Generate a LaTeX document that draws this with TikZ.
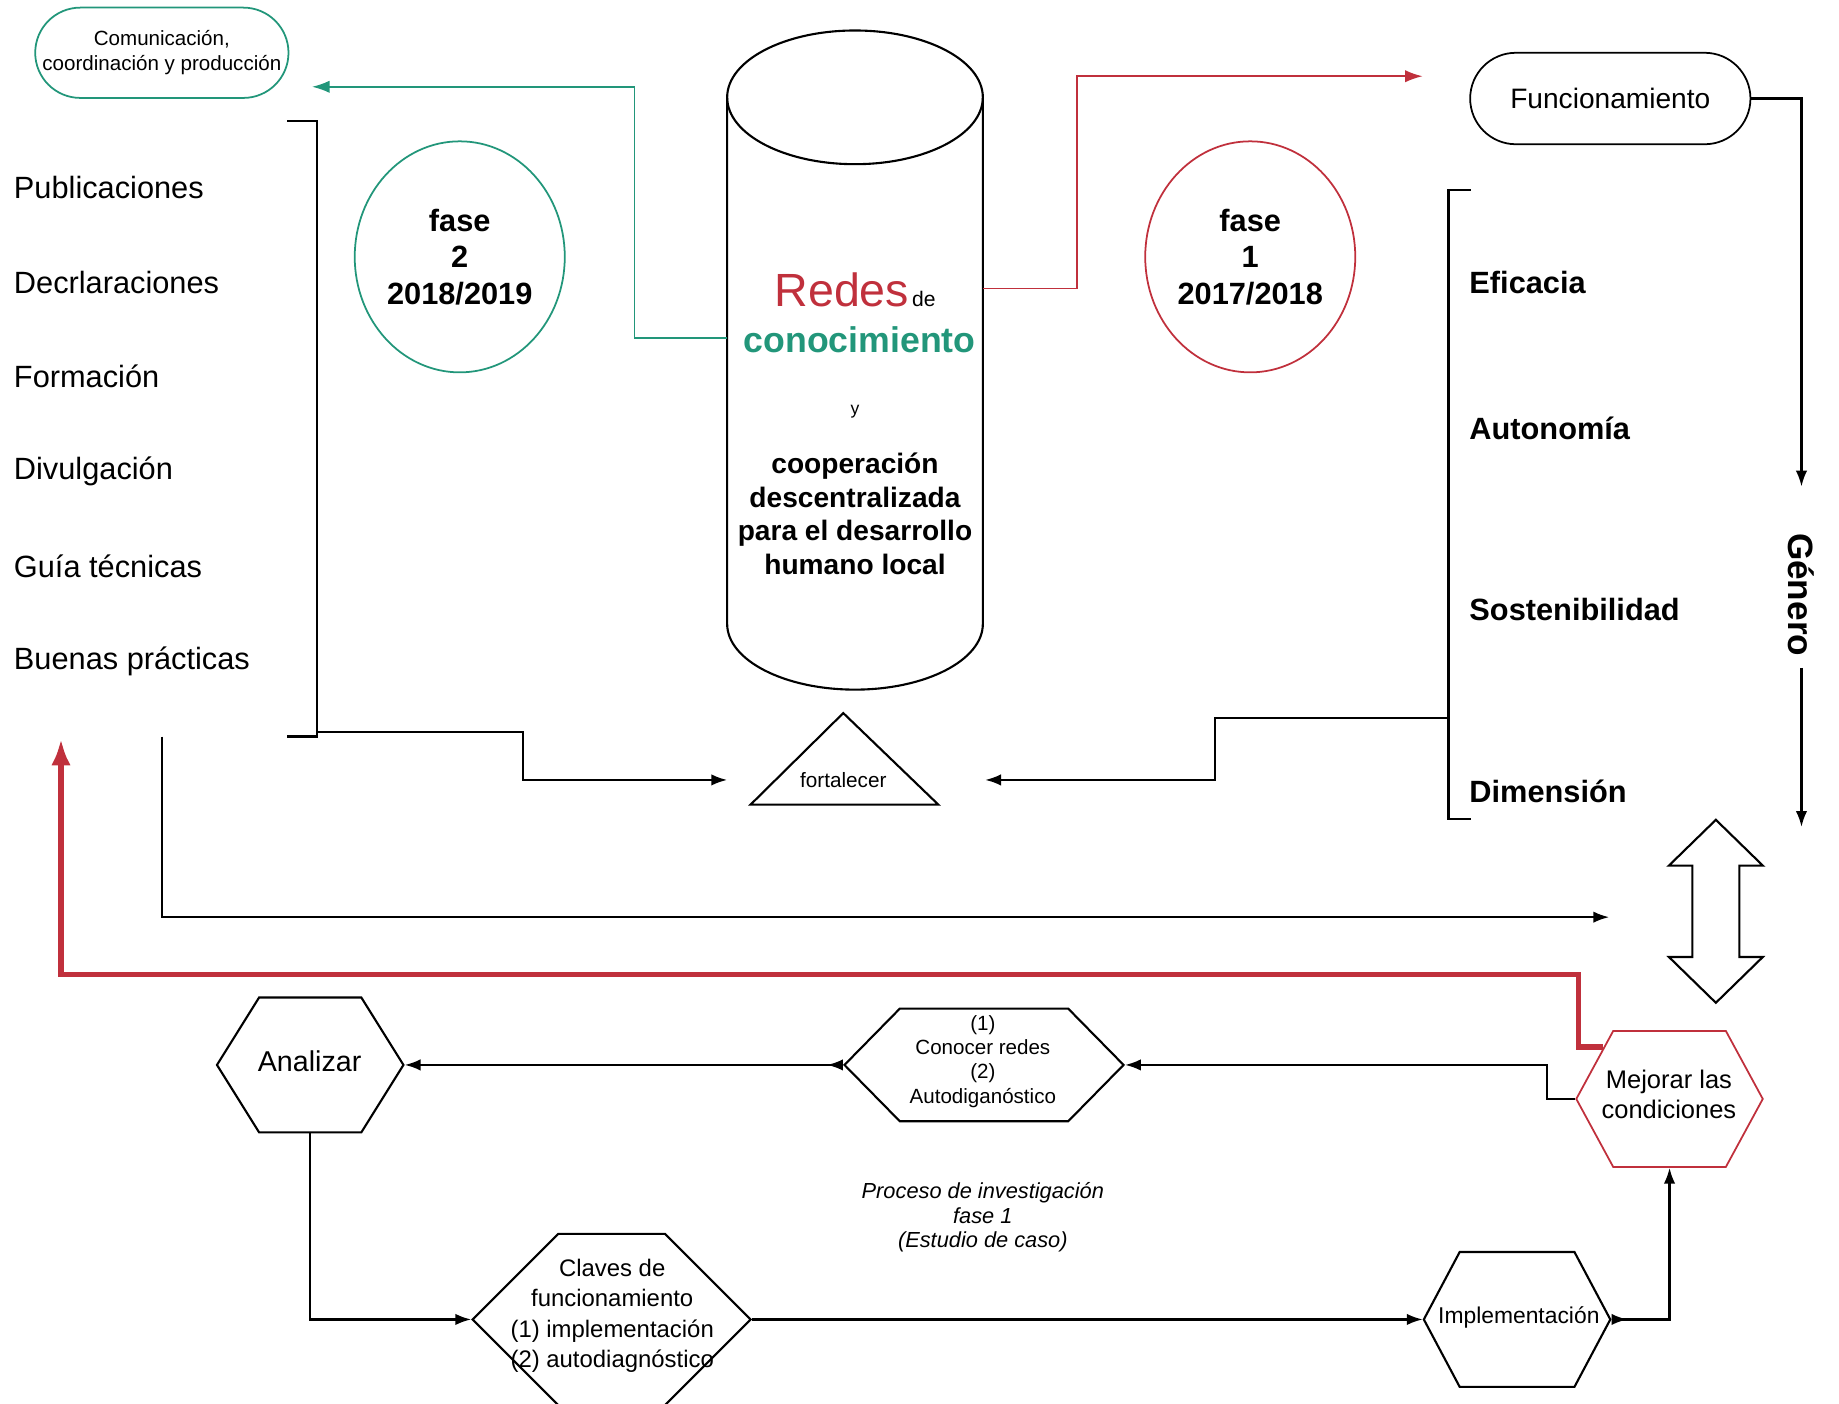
\documentclass[tikz,border=0pt]{standalone}
\usepackage{fontspec}
\setmainfont{Liberation Sans}
\usetikzlibrary{arrows.meta,positioning,shapes.geometric,shapes.misc,shapes.symbols}
\definecolor{tealc}{RGB}{34,150,122}
\definecolor{redc}{RGB}{192,48,60}

\begin{document}
\begin{tikzpicture}[
    x=0.02345cm, y=-0.02345cm,
    >={Latex[length=9pt,width=6.5pt]},
    line width=1.2pt,
    item/.style={anchor=west, inner sep=0pt, font=\fontsize{17.5}{21}\selectfont},
    crit/.style={anchor=west, inner sep=0pt, font=\bfseries\fontsize{17.5}{21}\selectfont},
    fase/.style={
		ellipse,
		line width=1pt,
		minimum width=4.2cm,
		minimum height=4.62cm,
		inner sep=0pt,
		align=center,
		font=\bfseries\fontsize{17.5}{20.7}\selectfont
	},
    pill/.style={
		rounded rectangle,
		draw,
		line width=1pt,
		inner sep=0pt,
		align=center
	},
    hexa/.style={
		signal,
		signal to=west and east,
		signal pointer angle=#1,
		draw,
		fill=white,
		inner sep=0pt
	},
    hextext/.style={inner sep=0pt, align=center},
    link/.style={draw, ->},
    tealink/.style={draw=tealc, line width=1pt, -{Latex[length=10pt,width=7pt]}},
    redlink/.style={draw=redc, line width=1pt, -{Latex[length=10pt,width=7pt]}},
    backlink/.style={draw=redc, line width=3.2pt, -{Latex[length=15pt,width=11pt]}}
  ]
  \useasboundingbox (0,0) rectangle (1568,1197);

  % top row
  \node [pill, draw=tealc, minimum width=5.065cm, minimum height=1.806cm,
         font=\fontsize{11.7}{14}\selectfont] (comu) at (138,45)
        {Comunicación,\\coordinación y producción};
  \node [pill, minimum width=5.605cm, minimum height=1.829cm,
         font=\fontsize{16}{19}\selectfont] (func) at (1373,84) {Funcionamiento};

  % left list and bracket
  \node [item] (publ) at (11,160) {Publicaciones};
  \node [item] (decl) at (11,241) {Decrlaraciones};
  \node [item] (form) at (11,321) {Formación};
  \node [item] (divu) at (11,402) {Divulgación};
  \node [item] (guia) at (11,483) {Guía técnicas};
  \node [item] (buen) at (11,564) {Buenas prácticas};
  \draw (245,103) -- (270,103) -- (270,628) -- (245,628);
  \coordinate (lbrack) at (270,624);
  \coordinate (listbot) at (138,628);

  % right list and bracket
  \node [crit] (efic) at (1252,241) {Eficacia};
  \node [crit] (auto) at (1252,365) {Autonomía};
  \node [crit] (sost) at (1252,520) {Sostenibilidad};
  \node [crit] (dime) at (1252,675) {Dimensión};
  \draw (1254,162) -- (1235,162) -- (1235,698) -- (1254,698);
  \coordinate (rbrack) at (1235,612);

  % phases
  \node [fase, draw=tealc] (fase2) at (392,219) {fase\\2\\2018/2019};
  \node [fase, draw=redc] (fase1) at (1066,219) {fase\\1\\2017/2018};

  % the cylinder
  \draw (620,83) -- (620,532) arc[start angle=180, end angle=0, x radius=109, y radius=56] -- (838,83);
  \draw (729,83) ellipse [x radius=109, y radius=57];
  \node [inner sep=0pt] (redes) at (729,247)
        {{\color{redc}\fontsize{26.5}{30}\selectfont Redes}\,{\fontsize{12}{14}\selectfont de}};
  \node [inner sep=0pt, text=tealc, font=\bfseries\fontsize{20.3}{24}\selectfont] (conoc) at (733,290) {conocimiento};
  \node [inner sep=0pt, font=\fontsize{10}{12}\selectfont] (yy) at (729,351) {y};
  \node [inner sep=0pt, align=center, font=\bfseries\fontsize{16}{19.15}\selectfont] (coop) at (729,438)
        {cooperación\\descentralizada\\para el desarrollo\\humano local};
  \coordinate (cylL) at (620,288);
  \coordinate (cylR) at (838,246);

  % fortalecer
  \draw (640,686) -- (719,608) -- (800,686) -- cycle;
  \node [inner sep=0pt, font=\fontsize{11.8}{14}\selectfont] (fort) at (719,665) {fortalecer};
  \coordinate (fortL) at (620,665);
  \coordinate (fortR) at (840,665);

  % genero
  \node [rotate=-90, inner sep=6pt, font=\bfseries\fontsize{20}{24}\selectfont] (genero) at (1536,507) {Género};
  \coordinate (genout) at (1536,705);

  % double arrow
  \draw (1463,699) -- (1503,738) -- (1483,738) -- (1483,816) -- (1503,816) -- (1463,855)
        -- (1423,816) -- (1443,816) -- (1443,738) -- (1423,738) -- cycle;
  \coordinate (dblin) at (1372,782);

  % process
  \node [hexa=116, minimum width=3.729cm, minimum height=2.697cm] (analizar) at (264.5,908) {};
  \node [hextext, font=\fontsize{16.3}{19}\selectfont] (analizartxt) at (264,905) {Analizar};
  \node [hexa=91, minimum width=5.581cm, minimum height=2.251cm] (conocer) at (839,908) {};
  \node [hextext, font=\fontsize{11.7}{13.8}\selectfont] (conocertxt) at (838,905)
        {(1)\\Conocer redes\\(2)\\Autodiganóstico};
  \node [hexa=123, draw=redc, line width=1pt, minimum width=3.729cm, minimum height=2.72cm] (mejorar) at (1423.5,937) {};
  \node [hextext, font=\fontsize{14.5}{17.3}\selectfont] (mejorartxt) at (1423,933)
        {Mejorar las\\condiciones};
  \node [hexa=90, minimum width=5.558cm, minimum height=3.424cm] (claves) at (521.5,1125) {};
  \node [hextext, font=\fontsize{13.6}{17.3}\selectfont] (clavestxt) at (522,1122)
        {Claves de\\funcionamiento\\(1) implementación\\(2) autodiagnóstico};
  \node [hexa=124, minimum width=3.729cm, minimum height=2.697cm] (impl) at (1293.5,1125) {};
  \node [hextext, font=\fontsize{13}{16}\selectfont] (impltxt) at (1295,1123) {Implementación};
  \node [inner sep=0pt, align=center, font=\itshape\fontsize{12.4}{14}\selectfont] (proceso) at (838,1038)
        {Proceso de investigación\\fase 1\\(Estudio de caso)};
  \coordinate (backtip) at (52,630);

  % connectors
  \draw [tealink] (cylL) -- ++(-79,0) |- (266,74);
  \draw [redlink] (cylR) -- ++(80,0) |- (1213,65);
  \draw [link, shorten >=0.7cm] (func.east) -| (genero.west);
  \draw [link] (genero.east) -- (genout);
  \draw [link] (lbrack) -- ++(176,0) |- (fortL);
  \draw [link] (rbrack) -- ++(-199,0) |- (fortR);
  \draw [link] (listbot) |- (dblin);
  \draw [backlink] (mejorar.142) -- ++(-21,0) -- ++(0,-62) -| (backtip);
  \draw [link] (mejorar.west) -- ++(-24,0) |- (conocer.east);
  \draw [draw, {Latex[length=9pt,width=6.5pt,reversed]}->] (conocer.west) -- (analizar.east);
  \draw [link] (analizar.south) |- (claves.west);
  \draw [link] (claves.east) -- (impl.west);
  \draw [draw, {Latex[length=9pt,width=6.5pt,reversed]}->] (impl.east) -| (mejorar.south);

\end{tikzpicture}
\end{document}
